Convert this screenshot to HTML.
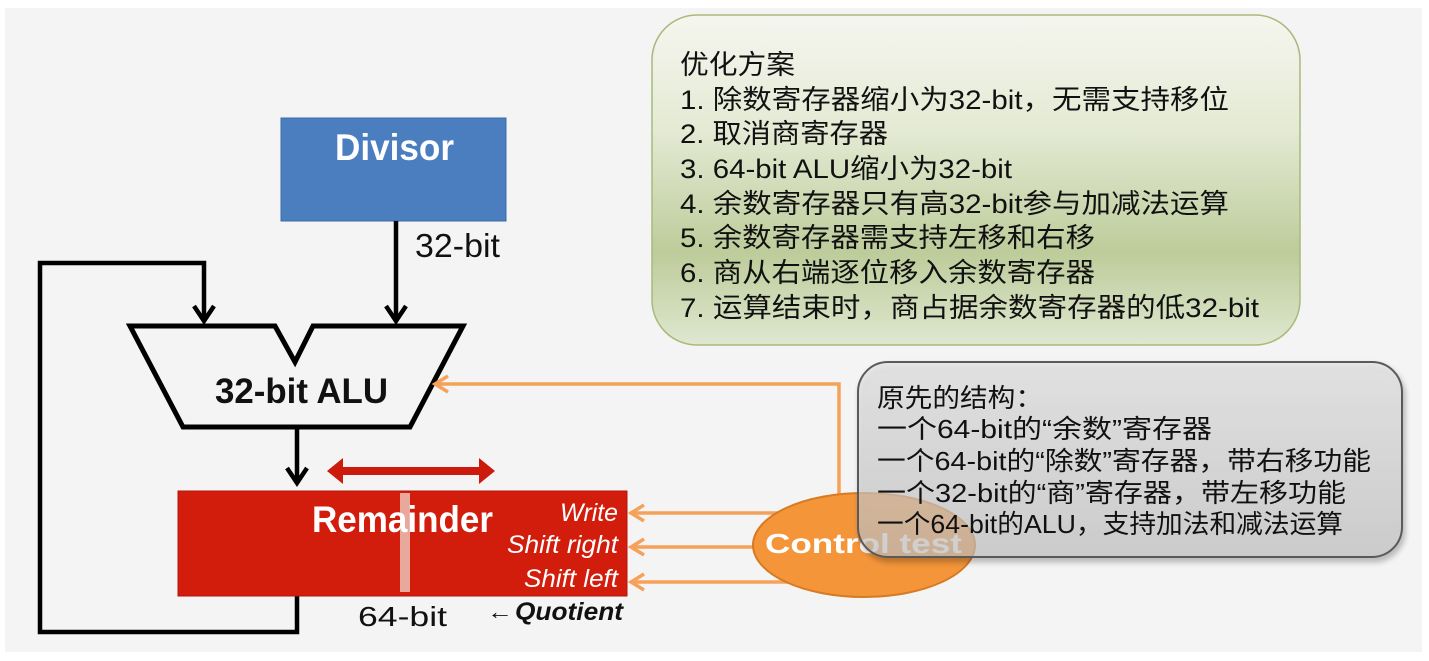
<!DOCTYPE html>
<html>
<head>
<meta charset="utf-8">
<style>
  html,body{margin:0;padding:0;background:#fff;}
  svg{display:block;}
  text{font-family:"Liberation Sans","Noto Sans CJK SC",sans-serif;}
</style>
</head>
<body>
<svg width="1429" height="661" viewBox="0 0 1429 661" xmlns="http://www.w3.org/2000/svg">
  <defs>
    <linearGradient id="gGreen" x1="0" y1="0" x2="0" y2="1">
      <stop offset="0" stop-color="#f5f6ef"/>
      <stop offset="0.35" stop-color="#e4eAd4"/>
      <stop offset="0.72" stop-color="#bdcc9a"/>
      <stop offset="1" stop-color="#dfe7d0"/>
    </linearGradient>
    <linearGradient id="gGray" x1="0" y1="0" x2="0" y2="1">
      <stop offset="0" stop-color="#e4e4e4"/>
      <stop offset="1" stop-color="#c4c4c4"/>
    </linearGradient>
    <filter id="sh" x="-10%" y="-10%" width="130%" height="140%">
      <feGaussianBlur in="SourceAlpha" stdDeviation="3"/>
      <feOffset dx="2" dy="4" result="b"/>
      <feComponentTransfer><feFuncA type="linear" slope="0.35"/></feComponentTransfer>
      <feMerge><feMergeNode/><feMergeNode in="SourceGraphic"/></feMerge>
    </filter>
  </defs>

  <!-- slide background -->
  <rect x="0" y="0" width="1429" height="661" fill="#ffffff"/>
  <rect x="5" y="8" width="1417" height="644" fill="#f4f4f4"/>

  <!-- Divisor -->
  <rect x="281" y="118" width="225" height="103" fill="#4a7ebf" stroke="#3b6aa6" stroke-width="1"/>
  <text x="335" y="160" font-size="37" font-weight="bold" fill="#ffffff" textLength="119" lengthAdjust="spacingAndGlyphs">Divisor</text>
  <text x="415" y="257" font-size="33" fill="#111" textLength="85" lengthAdjust="spacingAndGlyphs">32-bit</text>

  <!-- black connectors -->
  <g stroke="#000" stroke-width="4.5" fill="none" stroke-linejoin="miter">
    <line x1="396" y1="221" x2="396" y2="320"/>
    <polyline points="386,306 396,321 406,306"/>
    <polyline points="297,596 297,632 40,632 40,263 204,263 204,320"/>
    <polyline points="194,306 204,321 214,306"/>
    <line x1="297" y1="427" x2="297" y2="482"/>
    <polyline points="287,468 297,483 307,468"/>
    <!-- ALU -->
    <polygon points="130,326 275,326 295,362 313,326 463,326 410,427 183,427" stroke-width="5" fill="#f4f4f4"/>
  </g>
  <text x="215" y="403" font-size="35" font-weight="bold" fill="#111" textLength="173" lengthAdjust="spacingAndGlyphs">32-bit ALU</text>

  <!-- red double arrow -->
  <polygon points="327,471 343,458 343,467 479,467 479,458 495,471 479,484 479,475 343,475 343,484" fill="#cc1a0c"/>

  <!-- Remainder -->
  <rect x="178" y="491" width="449" height="105" fill="#d21c0c" stroke="#b81508" stroke-width="1"/>
  <rect x="400" y="493" width="10" height="99" fill="#e9a89c"/>
  <text x="312" y="532" font-size="37" font-weight="bold" fill="#ffffff" textLength="181" lengthAdjust="spacingAndGlyphs">Remainder</text>
  <text x="560" y="521" font-size="25" font-style="italic" fill="#ffffff" textLength="58" lengthAdjust="spacingAndGlyphs">Write</text>
  <text x="507" y="553" font-size="25" font-style="italic" fill="#ffffff" textLength="111" lengthAdjust="spacingAndGlyphs">Shift right</text>
  <text x="524" y="587" font-size="25" font-style="italic" fill="#ffffff" textLength="94" lengthAdjust="spacingAndGlyphs">Shift left</text>

  <text x="358" y="626" font-size="28" fill="#111" textLength="89" lengthAdjust="spacingAndGlyphs">64-bit</text>
  <text x="487" y="619" font-size="22" fill="#111" textLength="26" lengthAdjust="spacingAndGlyphs">←</text>
  <text x="515" y="620" font-size="25" font-weight="bold" font-style="italic" fill="#111" textLength="108" lengthAdjust="spacingAndGlyphs">Quotient</text>

  <!-- orange control lines -->
  <g stroke="#f6a15a" stroke-width="3.5" fill="none">
    <polyline points="437,384 839,384 839,500"/>
    <polyline points="448,376 435,384 448,392"/>
    <line x1="632" y1="513" x2="800" y2="513"/>
    <line x1="632" y1="547" x2="760" y2="547"/>
    <line x1="632" y1="582" x2="790" y2="582"/>
    <polyline points="644,505 631,513 644,521"/>
    <polyline points="644,539 631,547 644,555"/>
    <polyline points="644,574 631,582 644,590"/>
  </g>

  <!-- Control test ellipse -->
  <ellipse cx="864" cy="545" rx="111" ry="52" fill="#f4953a" stroke="#d77a22" stroke-width="2"/>
  <text x="765" y="553" font-size="28" font-weight="bold" fill="#ffffff" textLength="197" lengthAdjust="spacingAndGlyphs">Control test</text>

  <!-- green box -->
  <rect x="652" y="15" width="648" height="330" rx="45" ry="45" fill="url(#gGreen)" stroke="#a9b97a" stroke-width="1.5"/>
  <g font-size="27" fill="#111">
    <text x="680" y="74" textLength="115" lengthAdjust="spacingAndGlyphs">优化方案</text>
    <text x="680" y="109" textLength="549" lengthAdjust="spacingAndGlyphs">1. 除数寄存器缩小为32-bit，无需支持移位</text>
    <text x="680" y="143" textLength="208" lengthAdjust="spacingAndGlyphs">2. 取消商寄存器</text>
    <text x="680" y="178" textLength="332" lengthAdjust="spacingAndGlyphs">3. 64-bit ALU缩小为32-bit</text>
    <text x="680" y="213" textLength="549" lengthAdjust="spacingAndGlyphs">4. 余数寄存器只有高32-bit参与加减法运算</text>
    <text x="680" y="247" textLength="415" lengthAdjust="spacingAndGlyphs">5. 余数寄存器需支持左移和右移</text>
    <text x="680" y="282" textLength="415" lengthAdjust="spacingAndGlyphs">6. 商从右端逐位移入余数寄存器</text>
    <text x="680" y="317" textLength="579" lengthAdjust="spacingAndGlyphs">7. 运算结束时，商占据余数寄存器的低32-bit</text>
  </g>

  <!-- gray box (semi-transparent over ellipse) -->
  <rect x="858" y="362" width="544" height="195" rx="30" ry="30" fill="url(#gGray)" fill-opacity="0.62" stroke="#5a5a5a" stroke-width="2" filter="url(#sh)"/>
  <g font-size="26" fill="#111">
    <text x="877" y="407" textLength="166" lengthAdjust="spacingAndGlyphs">原先的结构：</text>
    <text x="877" y="438" textLength="335" lengthAdjust="spacingAndGlyphs">一个64-bit的“余数”寄存器</text>
    <text x="877" y="470" textLength="494" lengthAdjust="spacingAndGlyphs">一个64-bit的“除数”寄存器，带右移功能</text>
    <text x="877" y="502" textLength="469" lengthAdjust="spacingAndGlyphs">一个32-bit的“商”寄存器，带左移功能</text>
    <text x="877" y="533" textLength="466" lengthAdjust="spacingAndGlyphs">一个64-bit的ALU，支持加法和减法运算</text>
  </g>
</svg>
</body>
</html>
